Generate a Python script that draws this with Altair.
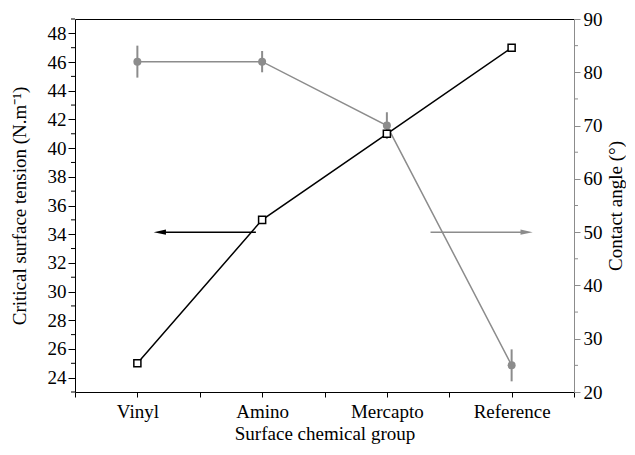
import json
import altair as alt
import pandas as pd

# ---- data ----
groups = ["Vinyl", "Amino", "Mercapto", "Reference"]
tension = [25, 35, 41, 47]          # critical surface tension (N/m), left axis
angle = [82, 82, 70, 25]            # contact angle (deg), right axis
angle_err = [3, 2, 2.5, 3]          # error bar half-width (deg)

# axis tick values
left_major = list(range(24, 49, 2))
left_minor = list(range(23, 50, 2))
right_major = list(range(20, 91, 10))
right_minor = list(range(25, 90, 10))

# annotation arrows (drawn on the contact-angle scale)
arrow_level = [50, 50]
arrow_tail = [0.95, 2.35]
arrow_head = [0.18, 3.12]
arrow_color = ["black", "#8c8c8c"]
arrow_shape = ["M-1,0L1,-0.42L1,0.42Z", "M1,0L-1,-0.42L-1,0.42Z"]

GRAY = "#8c8c8c"
FONT = "Liberation Serif"
FS = 19
W, H = 499, 373

idx = list(range(len(groups)))
df = pd.DataFrame({
    "i": idx,
    "group": groups,
    "tension": tension,
    "angle": angle,
    "lo": [a - e for a, e in zip(angle, angle_err)],
    "hi": [a + e for a, e in zip(angle, angle_err)],
})
arrows = pd.DataFrame({
    "y": arrow_level, "tail": arrow_tail, "head": arrow_head,
    "color": arrow_color, "shape": arrow_shape,
})
lminor_df = pd.DataFrame({"v": left_minor})
rminor_df = pd.DataFrame({"v": right_minor})

xscale = alt.Scale(domain=[-0.5, len(groups) - 0.5], nice=False, zero=False)
xvals = [k / 2 for k in range(-1, 2 * len(groups))]
label_expr = (
    "datum.value % 1 == 0 ? " + json.dumps(groups) + "[datum.value] : ''"
)
x_bottom = alt.Axis(
    values=xvals, labelExpr=label_expr, title="Surface chemical group",
    grid=False, tickSize=5, tickColor="black", domainColor="black",
    labelColor="black", labelFontSize=FS, titleFontSize=FS,
    labelFont=FONT, titleFont=FONT, titleFontWeight="normal",
    labelPadding=5, titlePadding=3, orient="bottom", labelFlush=False,
    labelOverlap=False,
)
x_top = alt.Axis(
    orient="top", labels=False, ticks=False, title=None, grid=False,
    domainColor="black",
)

lscale = alt.Scale(domain=[23, 49], nice=False, zero=False)
rscale = alt.Scale(domain=[20, 90], nice=False, zero=False)

left_axis = alt.Axis(
    orient="left", values=left_major, tickSize=7,
    title="Critical surface tension (N.m\u207b\u00b9)", grid=False,
    domainColor="black", tickColor="black", labelColor="black",
    labelFont=FONT, titleFont=FONT, labelFontSize=FS, titleFontSize=FS,
    titleFontWeight="normal", labelPadding=2, titlePadding=18,
    labelOverlap=False,
)
right_axis = alt.Axis(
    orient="right", values=right_major, tickSize=6,
    title="Contact angle (\u00b0)", grid=False,
    domainColor=GRAY, tickColor=GRAY, labelColor="black",
    labelFont=FONT, titleFont=FONT, labelFontSize=FS, titleFontSize=FS,
    titleFontWeight="normal", labelPadding=3, titlePadding=4,
    titleAngle=270, titleBaseline="top", labelOverlap=False,
)

base = alt.Chart(df)
xr = alt.X("i:Q", scale=xscale, axis=x_top)
xl = alt.X("i:Q", scale=xscale, axis=x_bottom)

# contact-angle series (right axis)
gray_line = base.mark_line(color=GRAY, strokeWidth=1.5).encode(
    x=xr, y=alt.Y("angle:Q", scale=rscale, axis=right_axis),
)
err = base.mark_rule(color=GRAY, strokeWidth=2).encode(
    x=xr, y=alt.Y("lo:Q", scale=rscale, axis=right_axis), y2="hi:Q",
)
circles = base.mark_point(shape="circle", filled=True, color=GRAY, size=64, opacity=1).encode(
    x=xr, y=alt.Y("angle:Q", scale=rscale, axis=right_axis),
)
shafts = alt.Chart(arrows).mark_rule(strokeWidth=1.5).encode(
    x=alt.X("tail:Q", scale=xscale, axis=x_top),
    x2="head:Q",
    y=alt.Y("y:Q", scale=rscale, axis=right_axis),
    color=alt.Color("color:N", scale=None),
)
heads = alt.Chart(arrows).mark_point(filled=True, size=150, opacity=1).encode(
    x=alt.X("head:Q", scale=xscale, axis=x_top),
    y=alt.Y("y:Q", scale=rscale, axis=right_axis),
    color=alt.Color("color:N", scale=None),
    shape=alt.Shape("shape:N", scale=None),
)
rminor = alt.Chart(rminor_df).mark_rule(color=GRAY, strokeWidth=1).encode(
    x=alt.value(W), x2=alt.value(W + 4),
    y=alt.Y("v:Q", scale=rscale, axis=right_axis),
)
right_group = alt.layer(gray_line, err, circles, shafts, heads, rminor)

# surface tension series (left axis)
black_line = base.mark_line(color="black", strokeWidth=1.5).encode(
    x=xl, y=alt.Y("tension:Q", scale=lscale, axis=left_axis),
)
squares = base.mark_point(shape="square", filled=True, fill="white", stroke="black",
                          strokeWidth=1.5, size=50, opacity=1).encode(
    x=xl, y=alt.Y("tension:Q", scale=lscale, axis=left_axis),
)
lminor = alt.Chart(lminor_df).mark_rule(color="black", strokeWidth=1).encode(
    x=alt.value(-4), x2=alt.value(0),
    y=alt.Y("v:Q", scale=lscale, axis=left_axis),
)
left_group = alt.layer(black_line, squares, lminor)

chart = alt.layer(right_group, left_group).resolve_scale(
    y="independent"
).resolve_axis(x="independent", y="independent").properties(
    width=W, height=H,
    padding={"left": 67, "top": 11, "right": 52, "bottom": 55},
    autosize=alt.AutoSizeParams(type="none"),
    background="white",
).configure_view(stroke=None).configure(font=FONT).configure_axis(labelOverlap=False)

chart.save("out.html", embed_options={"renderer": "svg", "actions": False})
